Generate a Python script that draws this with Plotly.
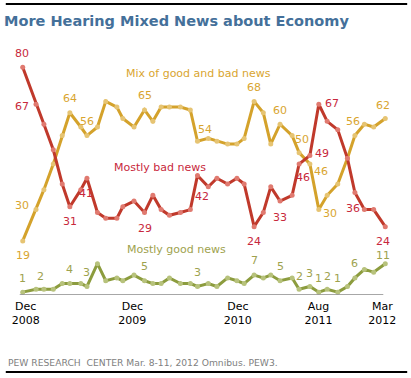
import plotly.graph_objects as go

# Survey timing, in months since Dec 2008 (read from point positions)
months = [0, 1.43, 2.28, 3.29, 4.25, 5.07, 6.25, 6.91, 8.04, 8.93,
          10.13, 10.77, 11.97, 13.10, 14.00, 14.89, 15.78, 16.96, 18.03, 18.80,
          19.96, 20.89, 22.04, 23.04, 23.82, 24.89, 25.88, 26.68, 27.68, 28.98,
          29.73, 30.89, 31.85, 32.75, 33.89, 34.93, 35.73, 36.75, 37.75, 39.0]

mostly_bad = [80, 67, 60, 51, 39, 31, 37, 41, 29, 27,
              27, 31, 33, 29, 35, 30, 28, 29, 30, 42,
              38, 41, 39, 41, 39, 24, 29, 38, 33, 35,
              46, 49, 67, 61, 58, 48, 36, 30, 30, 24]

mix = [19, 30, 37, 46, 56, 64, 59, 56, 59, 68,
       66, 62, 59, 65, 61, 66, 66, 66, 65, 54,
       55, 54, 53, 53, 55, 68, 64, 53, 60, 56,
       50, 46, 30, 35, 39, 48, 56, 60, 59, 62]

mostly_good = [1, 2, 2, 2, 4, 4, 4, 3, 11, 5,
               6, 5, 7, 5, 4, 4, 6, 4, 4, 3,
               4, 3, 6, 5, 4, 7, 6, 7, 5, 6,
               2, 3, 1, 2, 1, 3, 6, 9, 8, 11]

tick_vals = [0.32, 11.79, 23.14, 31.82, 38.68]
tick_text = ["Dec<br>2008", "Dec<br>2009", "Dec<br>2010", "Aug<br>2011", "Mar<br>2012"]

# which points carry a value label, with pixel offsets (dx, dy down)
bad_labels = {0: (-1, -14), 1: (-14, 2), 5: (0, 15), 7: (-1, 15), 13: (0, 16),
              19: (5, 21), 25: (0, 15), 28: (0, 16), 30: (4, 13), 31: (12, -2),
              32: (13, -1), 36: (-2, 16), 39: (-2, 15)}
mix_labels = {0: (0, 15), 1: (-14, -4), 5: (0, -14), 7: (0, -14), 13: (0, -14),
              19: (8, -12), 25: (0, -14), 28: (0, -14), 30: (3, -13), 31: (11, 7),
              32: (11, 4), 36: (-2, -14), 39: (-2, -13)}
good_labels = {0: (0, -14), 1: (4, -13), 5: (0, -14), 7: (0, -14), 13: (0, -14),
               19: (0, -14), 25: (0, -15), 28: (0, -14), 30: (0, -13), 31: (0, -13),
               32: (0, -14), 33: (0, -13), 34: (0, -14), 36: (0, -14), 39: (-2, -8)}

FONT = "DejaVu Sans"
series = [
    ("Mix of good and bad news", mix, "#D4A22B", "#E6C473", "#D9A530", mix_labels, (18.86, 77.9)),
    ("Mostly bad news", mostly_bad, "#C0392B", "#E07a70", "#C8283C", bad_labels, (14.73, 44.95)),
    ("Mostly good news", mostly_good, "#8C9C3E", "#B7C27C", "#9EA24E", good_labels, (16.55, 15.85)),
]

fig = go.Figure()
annotations = []
for name, vals, lc, mc, tc, labs, (nx, ny) in series:
    fig.add_trace(go.Scatter(
        x=months, y=vals, mode="lines+markers", name=name,
        line=dict(color=lc, width=3),
        marker=dict(color=mc, size=5, line=dict(width=0)),
        cliponaxis=False, hoverinfo="skip"))
    for i, (dx, dy) in labs.items():
        annotations.append(dict(x=months[i], y=vals[i], text=str(vals[i]), showarrow=False,
                                xshift=dx, yshift=-dy, font=dict(family=FONT, size=11, color=tc)))
    annotations.append(dict(x=nx, y=ny, text=name, showarrow=False,
                            font=dict(family=FONT, size=11, color=tc)))

W_PLOT = 371.47
L = 17.27
H_PLOT = 242.0
T = 53.0


def px_x(p):
    return (p - L) / W_PLOT


def px_y(p):
    return (T + H_PLOT - p) / H_PLOT


annotations.append(dict(xref="paper", yref="paper", x=px_x(4), y=px_y(362), xanchor="left",
                        yanchor="middle", showarrow=False,
                        text="PEW RESEARCH  CENTER Mar. 8-11, 2012 Omnibus. PEW3.",
                        font=dict(family=FONT, size=9.2, color="#808080")))

shapes = [
    dict(type="line", xref="paper", yref="paper", x0=px_x(4), x1=px_x(407), y0=px_y(4), y1=px_y(4),
         line=dict(color="black", width=2)),
    dict(type="line", xref="paper", yref="paper", x0=px_x(4), x1=px_x(407), y0=px_y(372), y1=px_y(372),
         line=dict(color="black", width=2)),
    dict(type="line", xref="paper", yref="y", x0=px_x(18), x1=px_x(383), y0=0, y1=0,
         line=dict(color="#8a8a8a", width=1.5)),
]

fig.update_layout(
    width=411, height=378,
    margin=dict(l=L, r=411 - L - W_PLOT, t=T, b=378 - T - H_PLOT, pad=0),
    paper_bgcolor="white", plot_bgcolor="white",
    showlegend=False,
    title=dict(text="<b>More Hearing Mixed News about Economy</b>", xref="container", yref="container",
               x=4 / 411, y=1 - 21 / 378, xanchor="left", yanchor="middle",
               font=dict(family=FONT, size=14.5, color="#44709A")),
    xaxis=dict(range=[-0.4, 39.4], tickvals=tick_vals, ticktext=tick_text,
               showgrid=False, zeroline=False, showline=False, ticks="",
               ticklabelstandoff=3,
               tickfont=dict(family=FONT, size=11, color="black")),
    yaxis=dict(range=[0, 85], visible=False, showgrid=False, zeroline=False),
    annotations=annotations, shapes=shapes,
)

fig.write_html("out.html", config={"displayModeBar": False},
               post_script="document.body.style.margin='0px';")
